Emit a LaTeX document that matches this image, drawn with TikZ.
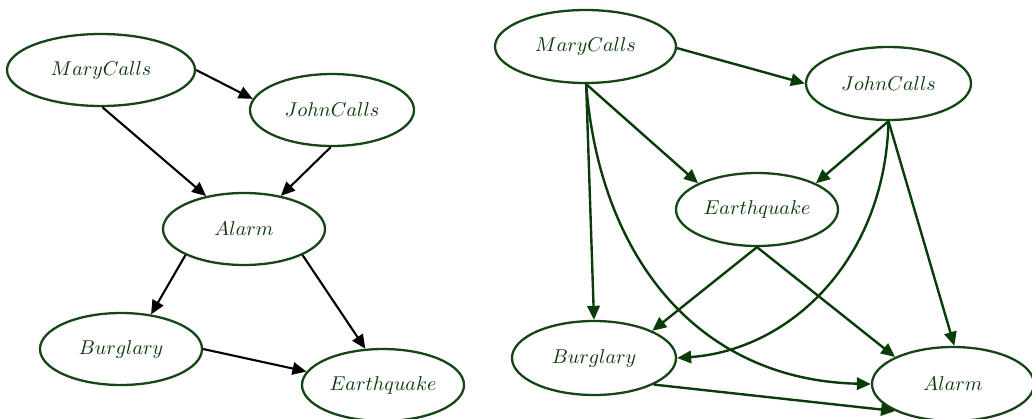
\documentclass[tikz,border=0pt]{standalone}
\usetikzlibrary{shapes.geometric,arrows.meta}
\definecolor{grn}{RGB}{22,70,22}
\definecolor{tgrn}{RGB}{10,56,10}
\definecolor{agrn}{RGB}{10,60,10}
\begin{document}
\begin{tikzpicture}[x=0.5pt,y=-0.5pt,
  bn/.style={ellipse,draw=grn,line width=1.15pt,text=tgrn,inner sep=0pt,font=\normalsize},
  larr/.style={draw=black,line width=1.05pt,-{Triangle[length=7pt,width=6.2pt]}},
  rarr/.style={draw=agrn,line width=1.2pt,-{Triangle[length=7pt,width=6.2pt]}}]
\useasboundingbox (0,0) rectangle (1032,418);
% left graph
\node[bn,minimum width=94pt,minimum height=36pt] (lm) at (101,70) {$MaryCalls$};
\node[bn,minimum width=82pt,minimum height=36pt] (lj) at (332,110) {$JohnCalls$};
\node[bn,minimum width=81pt,minimum height=36pt] (la) at (244,229) {$Alarm$};
\node[bn,minimum width=81pt,minimum height=36pt] (lb) at (121,349) {$Burglary$};
\node[bn,minimum width=81pt,minimum height=36pt] (le) at (383,385) {$Earthquake$};
\draw[larr] (lm.0) -- (lj.172);
\draw[larr] (lm.-88) -- (la.139);
\draw[larr] (lj.-92) -- (la.42);
\draw[larr] (la.-156) -- (lb.49);
\draw[larr] (la.-24) -- (le.116);
\draw[larr] (lb.0) -- (le.170);
% right graph
\node[bn,minimum width=90.5pt,minimum height=36.5pt] (rm) at (585.5,46.5) {$MaryCalls$};
\node[bn,minimum width=82.5pt,minimum height=36.5pt] (rj) at (888.5,83.5) {$JohnCalls$};
\node[bn,minimum width=81pt,minimum height=36.5pt] (re) at (757,209.5) {$Earthquake$};
\node[bn,minimum width=82pt,minimum height=37pt] (rb) at (594,358) {$Burglary$};
\node[bn,minimum width=81pt,minimum height=37pt] (ra) at (953,384) {$Alarm$};
\draw[rarr] (rm.-1) -- (rj.180);
\draw[rarr] (rm.-89) -- (re.156);
\draw[rarr] (rm.-89) -- (rb.90);
\draw[rarr] (rm.-89) .. controls (600,260) and (700,380) .. (ra.180);
\draw[rarr] (rj.-90) -- (re.24);
\draw[rarr] (rj.-90) .. controls (885,260) and (790,350) .. (rb.0);
\draw[rarr] (rj.-90) -- (ra.88);
\draw[rarr] (re.-90) -- (rb.25);
\draw[rarr] (re.-90) -- (ra.155);
\draw[rarr] (rb.-24) -- (ra.-155);
\end{tikzpicture}
\end{document}
